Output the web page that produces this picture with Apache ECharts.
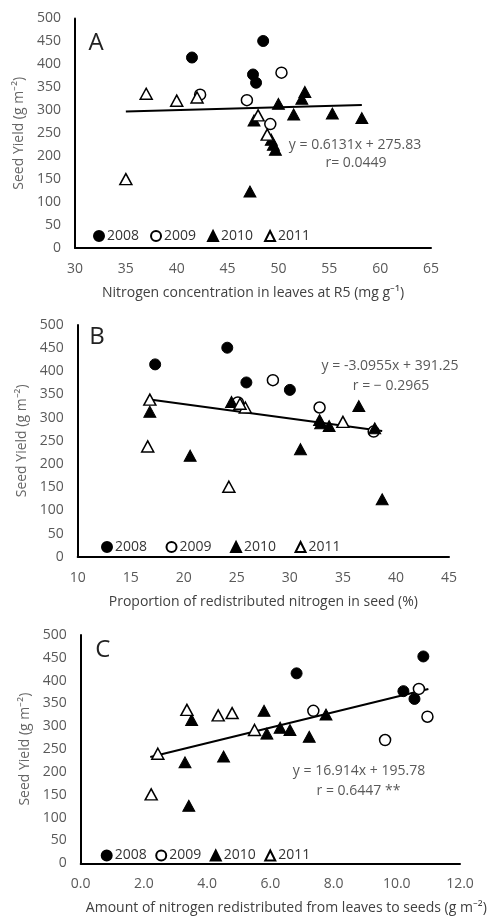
<!DOCTYPE html>
<html>
<head>
<meta charset="utf-8">
<script src="https://cdn.jsdelivr.net/npm/echarts@6/dist/echarts.min.js"></script>
<style>
  html, body { margin: 0; padding: 0; background: #fff; }
  #chart { width: 491px; height: 917px; }
</style>
</head>
<body>
<div id="chart"></div>
<script>
const years = ["2008", "2009", "2010", "2011"];

// Panel A: N concentration in leaves at R5 vs seed yield
const a2008 = [[41.5, 415], [48.5, 451], [47.5, 378], [47.8, 360]];
const a2009 = [[50.3, 382], [42.3, 334], [46.9, 322], [49.2, 270]];
const a2010 = [[47.2, 123], [47.6, 278], [50.0, 314], [51.5, 291], [52.3, 325], [52.6, 340],
  [55.3, 293], [58.2, 283], [49.3, 236], [49.5, 225], [49.7, 214]];
const a2011 = [[35.0, 150], [37.0, 336], [40.0, 321], [42.0, 328], [48.0, 289], [48.9, 247]];
const aTrend = [[35, 297.3], [58.2, 311.5]];

// Panel B: proportion of redistributed N in seed
const b2008 = [[17.3, 415], [24.1, 451], [25.9, 376], [30.0, 360]];
const b2009 = [[28.4, 381], [32.8, 322], [37.9, 270], [25.1, 333]];
const b2010 = [[16.8, 313], [20.6, 218], [24.5, 334], [32.8, 295], [32.9, 288], [33.7, 282],
  [36.5, 325], [31.0, 232], [38.0, 277], [38.7, 124]];
const b2011 = [[16.8, 339], [16.6, 238], [24.25, 151], [25.8, 322], [25.3, 330], [35.0, 291]];
const bTrend = [[16.8, 339.3], [38.7, 271.5]];

// Panel C: amount of N redistributed from leaves to seeds
const c2008 = [[6.83, 416], [10.84, 453], [10.21, 377], [10.56, 360]];
const c2009 = [[7.36, 334], [9.63, 270], [10.7, 382], [10.97, 321]];
const c2010 = [[3.51, 314], [5.8, 334], [3.30, 221], [4.52, 234], [3.42, 126], [5.89, 284],
  [6.31, 297], [6.62, 292], [7.23, 277], [7.76, 326]];
const c2011 = [[3.36, 336], [4.35, 324], [4.79, 329], [5.5, 292], [2.44, 240], [2.23, 151]];
const cTrend = [[2.2, 233.0], [11.0, 381.8]];

const xTicksA = { min: 30, max: 65, interval: 5 };
const xTicksB = { min: 10, max: 45, interval: 5 };
const xTicksC = { min: 0, max: 12, interval: 2 };
const yTicks = { min: 0, max: 500, interval: 50 };

const FONT = '"Open Sans", "Liberation Sans", sans-serif';

const markerStyle = {
  "2008": { symbol: "circle", symbolSize: 11, itemStyle: { color: "#000", borderColor: "#000", borderWidth: 1, opacity: 1 } },
  "2009": { symbol: "circle", symbolSize: 11, itemStyle: { color: "#fff", borderColor: "#000", borderWidth: 1.5, opacity: 1 } },
  "2010": { symbol: "triangle", symbolSize: [12, 11], itemStyle: { color: "#000", borderColor: "#000", borderWidth: 1, opacity: 1 } },
  "2011": { symbol: "triangle", symbolSize: [12, 11], itemStyle: { color: "#fff", borderColor: "#000", borderWidth: 1.5, opacity: 1 } },
};

function scatter(name, data, idx) {
  return Object.assign({
    name: name,
    type: "scatter",
    xAxisIndex: idx,
    yAxisIndex: idx,
    data: data,
    z: 3,
  }, markerStyle[name]);
}

function trend(data, idx) {
  return {
    name: "trend" + idx,
    type: "line",
    xAxisIndex: idx,
    yAxisIndex: idx,
    data: data,
    showSymbol: false,
    lineStyle: { color: "#000", width: 2 },
    z: 2,
  };
}

function xAxis(idx, ticks, name, fmt, shift) {
  return {
    gridIndex: idx,
    type: "value",
    min: ticks.min,
    max: ticks.max,
    interval: ticks.interval,
    name: name,
    nameLocation: "middle",
    nameGap: 38,
    nameTextStyle: { color: "#404040", fontSize: 14, fontFamily: FONT, padding: [0, 0, 0, shift || 0] },
    axisLine: { show: true, onZero: false, lineStyle: { color: "#000", width: 2 } },
    axisTick: { show: false },
    splitLine: { show: false },
    axisLabel: { color: "#595959", fontSize: 14, fontFamily: FONT, margin: 14, formatter: fmt },
  };
}

function yAxis(idx) {
  return {
    gridIndex: idx,
    type: "value",
    min: yTicks.min,
    max: yTicks.max,
    interval: yTicks.interval,
    name: "Seed Yield (g m⁻²)",
    nameLocation: "middle",
    nameGap: 46,
    nameTextStyle: { color: "#666", fontSize: 14, fontFamily: FONT },
    axisLine: { show: true, onZero: false, lineStyle: { color: "#000", width: 2 } },
    axisTick: { show: false },
    splitLine: { show: false },
    axisLabel: { color: "#595959", fontSize: 14, fontFamily: FONT, margin: 14 },
  };
}

function legend(left, top, gap) {
  return {
    data: years,
    left: left,
    top: top,
    itemGap: gap,
    itemWidth: 10,
    itemHeight: 10,
    padding: 0,
    selectedMode: false,
    textStyle: { color: "#333", fontSize: 14, fontFamily: FONT, padding: [0, 0, 0, -2] },
  };
}

function label(text, x, y, size, color) {
  return {
    type: "text",
    x: x,
    y: y,
    style: {
      text: text,
      textAlign: "center",
      textVerticalAlign: "middle",
      fill: color,
      font: size + "px " + FONT,
    },
  };
}

const chart = echarts.init(document.getElementById("chart"));

chart.setOption({
  animation: false,
  backgroundColor: "#fff",
  grid: [
    { left: 75, right: 60, top: 18.5, height: 229.5 },
    { left: 77.7, right: 42, top: 325, height: 231.7 },
    { left: 80.7, right: 31, top: 635, height: 228.3 },
  ],
  xAxis: [
    xAxis(0, xTicksA, "Nitrogen concentration in leaves at R5 (mg g⁻¹)"),
    xAxis(1, xTicksB, "Proportion of redistributed nitrogen in seed (%)"),
    xAxis(2, xTicksC, "Amount of nitrogen redistributed from leaves to seeds (g m⁻²)", (v) => v.toFixed(1), 32),
  ],
  yAxis: [yAxis(0), yAxis(1), yAxis(2)],
  legend: [
    legend(93, 229, 11),
    legend(101, 540, 18.5),
    legend(100.7, 848.5, 8.5),
  ],
  series: [
    trend(aTrend, 0),
    scatter("2008", a2008, 0),
    scatter("2009", a2009, 0),
    scatter("2010", a2010, 0),
    scatter("2011", a2011, 0),
    trend(bTrend, 1),
    scatter("2008", b2008, 1),
    scatter("2009", b2009, 1),
    scatter("2010", b2010, 1),
    scatter("2011", b2011, 1),
    trend(cTrend, 2),
    scatter("2008", c2008, 2),
    scatter("2009", c2009, 2),
    scatter("2010", c2010, 2),
    scatter("2011", c2011, 2),
  ],
  graphic: [
    label("A", 96, 43.5, 24, "#222"),
    label("B", 97, 336.7, 24, "#222"),
    label("C", 102.7, 650.5, 24, "#222"),
    label("y = 0.6131x + 275.83", 355, 145, 14, "#595959"),
    label("r= 0.0449", 356, 163.5, 14, "#595959"),
    label("y = -3.0955x + 391.25", 390, 366, 14, "#595959"),
    label("r = − 0.2965", 391, 386, 14, "#595959"),
    label("y = 16.914x + 195.78", 359, 771, 14, "#595959"),
    label("r = 0.6447 **", 358.5, 791, 14, "#595959"),
  ],
});

window.addEventListener("resize", () => {
  chart.resize();
});
</script>
</body>
</html>
